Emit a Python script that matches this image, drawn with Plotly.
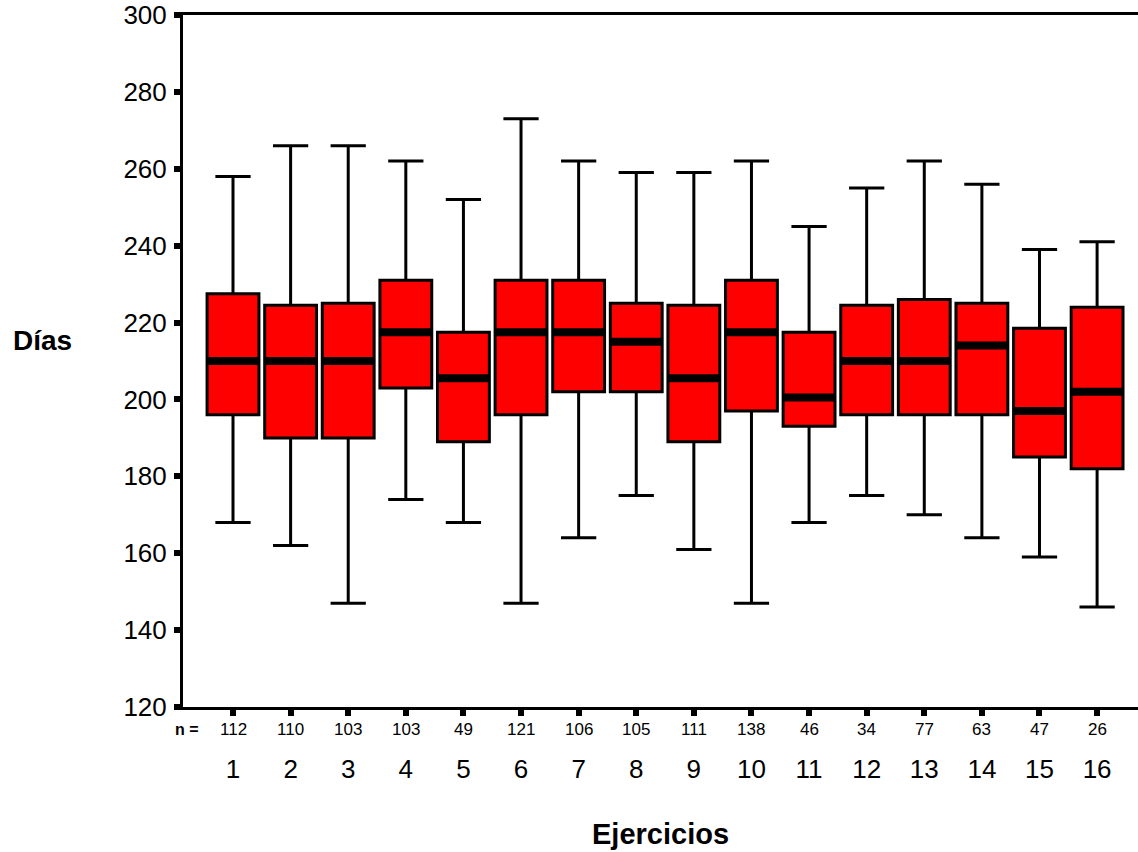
import plotly.graph_objects as go

categories = list(range(1, 17))
n_counts = [112, 110, 103, 103, 49, 121, 106, 105, 111, 138, 46, 34, 77, 63, 47, 26]
upper_whisker = [258, 266, 266, 262, 252, 273, 262, 259, 259, 262, 245, 255, 262, 256, 239, 241]
q3_values = [227.5, 224.5, 225, 231, 217.5, 231, 231, 225, 224.5, 231, 217.5, 224.5, 226, 225, 218.5, 224]
median_values = [210, 210, 210, 217.5, 205.5, 217.5, 217.5, 215, 205.5, 217.5, 200.5, 210, 210, 214, 197, 202]
q1_values = [196, 190, 190, 203, 189, 196, 202, 202, 189, 197, 193, 196, 196, 196, 185, 182]
lower_whisker = [168, 162, 147, 174, 168, 147, 164, 175, 161, 147, 168, 175, 170, 164, 159, 146]
y_ticks = [120, 140, 160, 180, 200, 220, 240, 260, 280, 300]

BOX_W = 0.9
FONT = "Liberation Sans, Arial, sans-serif"

fig = go.Figure()
fig.add_trace(go.Box(
    x=categories,
    q1=q1_values, median=median_values, q3=q3_values,
    lowerfence=lower_whisker, upperfence=upper_whisker,
    width=BOX_W,
    whiskerwidth=0.68,
    fillcolor="#ff0000",
    line=dict(color="black", width=3),
    boxpoints=False,
    showlegend=False,
))

# thick median bars
mx, my = [], []
for c, m in zip(categories, median_values):
    mx += [c - BOX_W / 2, c + BOX_W / 2, None]
    my += [m, m, None]
fig.add_trace(go.Scatter(x=mx, y=my, mode="lines",
                         line=dict(color="black", width=8),
                         showlegend=False, hoverinfo="skip"))

annotations = []
annotations.append(dict(x=0.2, y=-0.032, xref="x", yref="paper", text="<b>n =</b>",
                        showarrow=False, xanchor="center", yanchor="middle",
                        font=dict(family=FONT, size=16, color="black")))
for c, n in zip(categories, n_counts):
    annotations.append(dict(x=c, y=-0.032, xref="x", yref="paper", text=str(n),
                            showarrow=False, xanchor="center", yanchor="middle",
                            font=dict(family=FONT, size=17, color="black")))
annotations.append(dict(x=-(183 - 42) / 955, y=1 - (340 - 15) / 692,
                        xref="paper", yref="paper", text="<b>Días</b>",
                        showarrow=False, xanchor="center", yanchor="middle",
                        font=dict(family=FONT, size=28, color="black")))
annotations.append(dict(x=0.5, y=-0.183, xref="paper", yref="paper", text="<b>Ejercicios</b>",
                        showarrow=False, xanchor="center", yanchor="middle",
                        font=dict(family=FONT, size=29, color="black")))

fig.update_layout(
    width=1138, height=852,
    margin=dict(l=183, r=0, t=15, b=145),
    paper_bgcolor="white", plot_bgcolor="white",
    annotations=annotations,
    font=dict(family=FONT, color="black"),
)
fig.update_xaxes(
    range=[0.132, 16.71],
    tickvals=categories, ticktext=[str(c) for c in categories],
    ticks="outside", ticklen=6, tickwidth=6, tickcolor="black",
    tickfont=dict(family=FONT, size=26, color="black"),
    ticklabelstandoff=31,
    showline=True, linecolor="black", linewidth=3, mirror=True,
    showgrid=False, zeroline=False,
)
fig.update_yaxes(
    range=[120, 300],
    tickvals=y_ticks,
    ticks="outside", ticklen=6, tickwidth=6, tickcolor="black",
    tickfont=dict(family=FONT, size=26, color="black"),
    ticklabelstandoff=2,
    showline=True, linecolor="black", linewidth=3,
    showgrid=False, zeroline=False,
)

fig.write_html("out.html")
